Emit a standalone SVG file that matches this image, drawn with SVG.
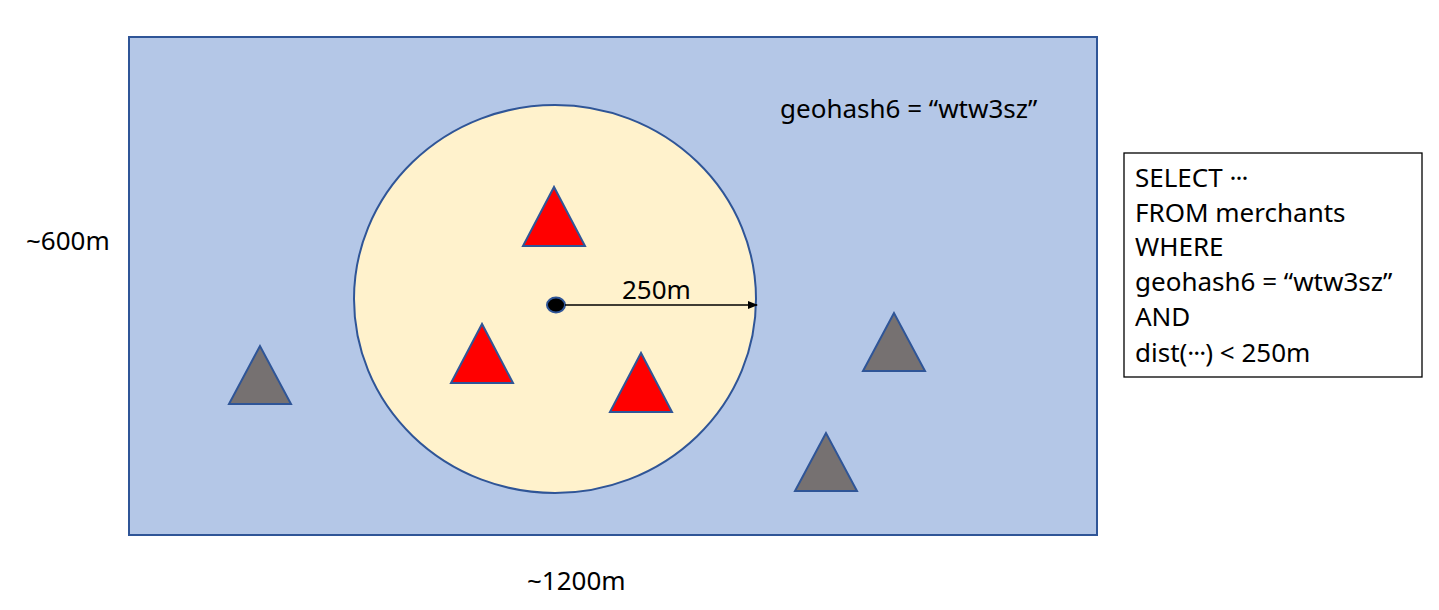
<svg xmlns="http://www.w3.org/2000/svg" width="1439" height="610" viewBox="0 0 1439 610">
<defs>
<style>
text{font-family:"Noto Sans","Liberation Sans",sans-serif;font-size:26px;fill:#000}
.red{fill:#FF0000;stroke:#2F5597;stroke-width:2}
.grey{fill:#767171;stroke:#2F5597;stroke-width:2}
</style>
<marker id="arr" markerWidth="10" markerHeight="8" refX="9" refY="4" orient="auto" markerUnits="userSpaceOnUse">
<path d="M0,0 L10,4 L0,8 Z" fill="#000"/>
</marker>
</defs>
<rect width="1439" height="610" fill="#fff"/>
<g id="area">
<rect x="129" y="37" width="968" height="498" fill="#B4C7E7" stroke="#2F5597" stroke-width="2"/>
</g>
<g id="range">
<ellipse cx="555" cy="299" rx="201" ry="194" fill="#FFF2CC" stroke="#2F5597" stroke-width="2"/>
</g>
<g id="geohash-label"><text x="780" y="118">geohash6 = “wtw3sz”</text></g>
<g id="width-label"><text x="527" y="590">~1200m</text></g>
<g id="height-label"><text x="26" y="250">~600m</text></g>
<g id="m1"><polygon class="red" points="554,187 523,246 585,246"/></g>
<g id="m2"><polygon class="red" points="482,324 451,383 513,383"/></g>
<g id="m3"><polygon class="red" points="641,353 610,412 672,412"/></g>
<g id="g1"><polygon class="grey" points="260,346 229,404 291,404"/></g>
<g id="g2"><polygon class="grey" points="894,313 863,371 925,371"/></g>
<g id="g3"><polygon class="grey" points="826,433 795,491 857,491"/></g>
<g id="center"><ellipse cx="556" cy="305" rx="9" ry="7.5" fill="#000" stroke="#2F5597" stroke-width="2"/></g>
<g id="connectors">
<line x1="565" y1="305" x2="757" y2="305" stroke="#000" stroke-width="1.3" marker-end="url(#arr)"/>
</g>
<g id="radius-label"><text x="622" y="299">250m</text></g>
<g id="sql">
<rect x="1124" y="153" width="298" height="224" fill="#fff" stroke="#000" stroke-width="1.3"/>
<text x="1135" y="187">SELECT <tspan letter-spacing="-1">···</tspan></text>
<text x="1135" y="222">FROM merchants</text>
<text x="1135" y="256">WHERE</text>
<text x="1135" y="291">geohash6 = “wtw3sz”</text>
<text x="1135" y="326">AND</text>
<text x="1135" y="362">dist(<tspan letter-spacing="-1">···</tspan>) &lt; 250m</text>
</g>
</svg>
